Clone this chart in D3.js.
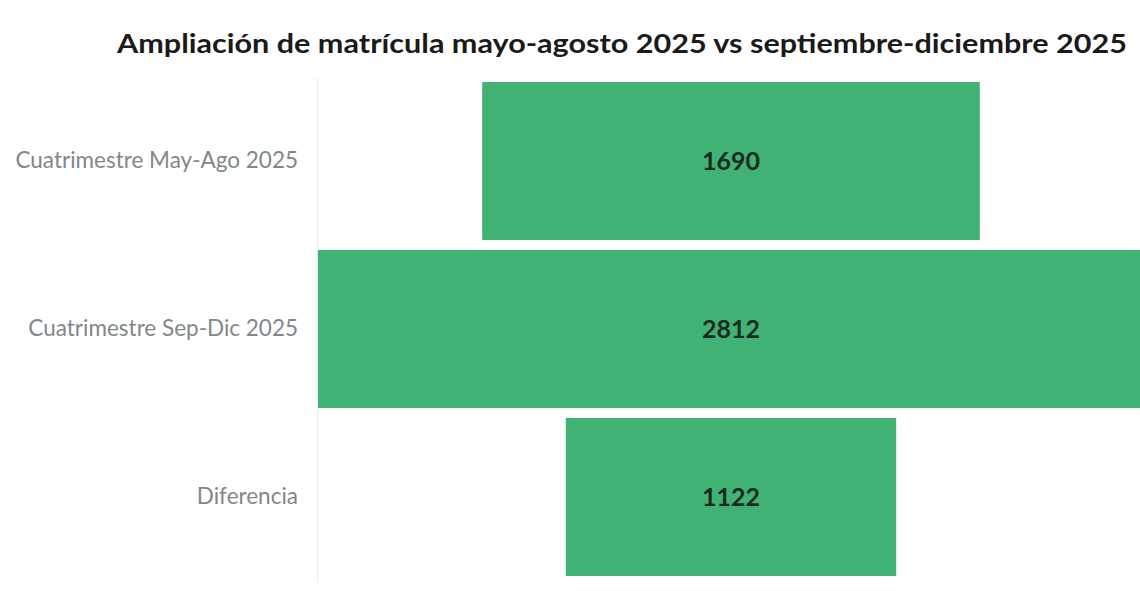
<!DOCTYPE html>
<html><head><meta charset="utf-8">
<script src="https://cdn.jsdelivr.net/npm/d3@7"></script>
<style>body{margin:0;background:#fff}svg{display:block}</style>
</head><body>
<svg id="c" width="1140" height="591"></svg>
<script>
const categories = ["Cuatrimestre May-Ago 2025", "Cuatrimestre Sep-Dic 2025", "Diferencia"];
const values = [1690, 2812, 1122];
const titleText = "Ampliación de matrícula mayo-agosto 2025 vs septiembre-diciembre 2025";

(function () {
const svg = d3.select("#c");
const W = 1140, H = 591;
const plotLeft = 317, plotRight = 1145, plotTop = 77, plotBottom = 581;
const center = (plotLeft + plotRight) / 2;

const y = d3.scaleBand().domain(categories).range([plotTop, plotBottom]).paddingInner(0.06).paddingOuter(0.03);
const x = d3.scaleLinear().domain([0, d3.max(values)]).range([0, plotRight - plotLeft]);

svg.append("rect").attr("width", W).attr("height", H).attr("fill", "#fff");

svg.append("text").attr("x", 622).attr("y", 53).attr("text-anchor", "middle")
  .attr("font-family", "Lato, 'Open Sans', sans-serif").attr("font-weight", "bold")
  .attr("font-size", 27).attr("fill", "#1a1a1a")
  .attr("textLength", 1010).attr("lengthAdjust", "spacingAndGlyphs")
  .text(titleText);

const data = categories.map((c, i) => ({c, v: values[i]}));

svg.selectAll("rect.bar").data(data).enter().append("rect").attr("class", "bar")
  .attr("x", d => center - x(d.v) / 2).attr("width", d => x(d.v))
  .attr("y", d => y(d.c)).attr("height", y.bandwidth())
  .attr("fill", "#40b273");

svg.selectAll("text.val").data(data).enter().append("text").attr("class", "val")
  .attr("x", center).attr("y", d => y(d.c) + y.bandwidth() / 2)
  .attr("dy", "0.35em").attr("text-anchor", "middle")
  .attr("font-family", "Lato, 'Open Sans', sans-serif").attr("font-weight", "bold")
  .attr("font-size", 25).attr("fill", "#1c2a22")
  .text(d => d.v);

const axis = d3.axisLeft(y).tickSize(0).tickPadding(19);
const g = svg.append("g").attr("transform", `translate(${plotLeft},0)`).call(axis);
g.select(".domain").attr("stroke", "#ececec").attr("stroke-width", 1);
g.selectAll(".tick text").attr("font-family", "Lato, 'Open Sans', sans-serif")
  .attr("font-size", 22.5).attr("fill", "#828789");
})();
</script>
</body></html>
